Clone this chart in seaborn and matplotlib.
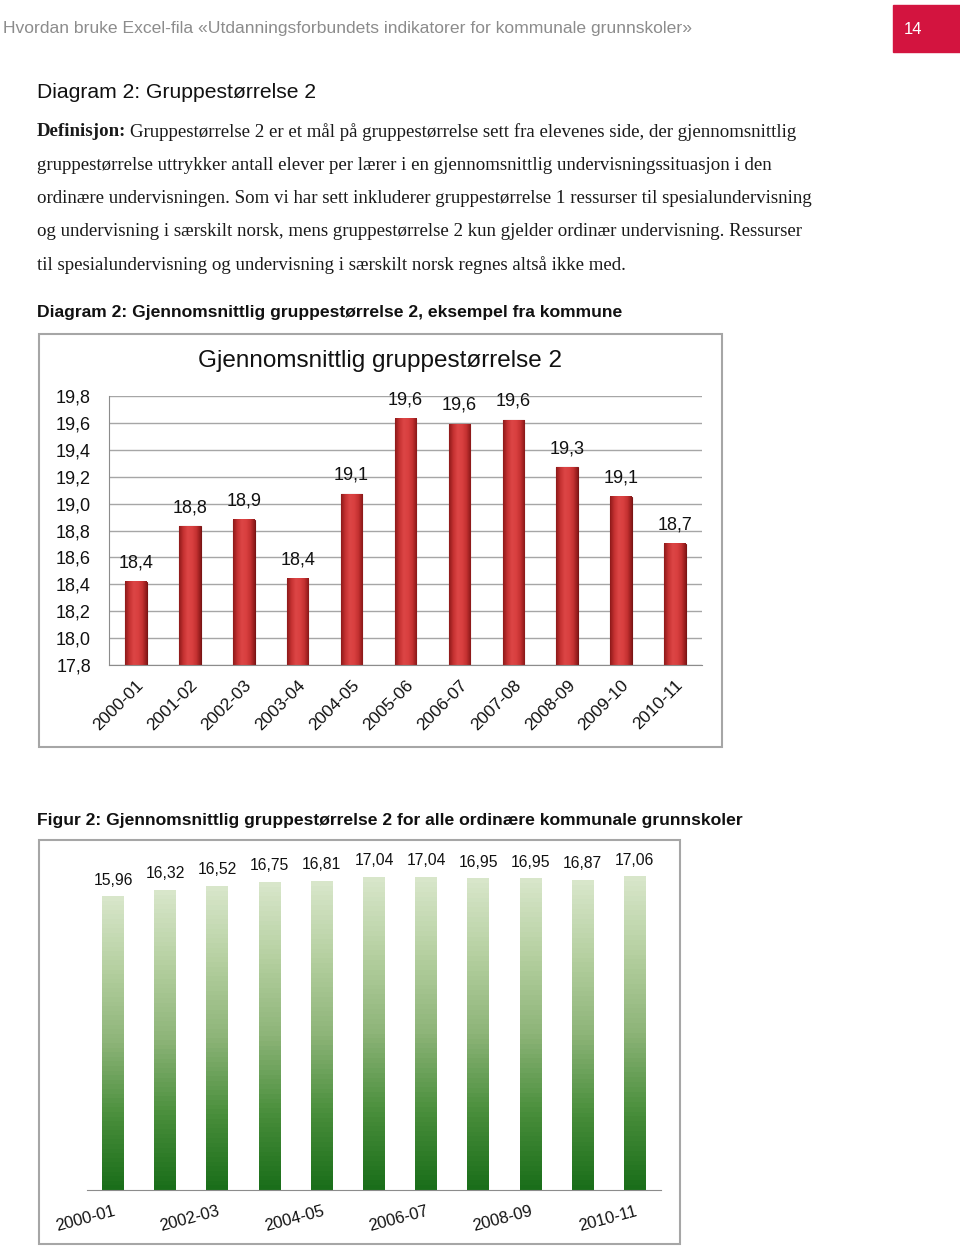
import numpy as np
import pandas as pd
import matplotlib
matplotlib.use('Agg')
import matplotlib.pyplot as plt
from matplotlib.patches import Rectangle
from matplotlib.colors import LinearSegmentedColormap
import seaborn as sns

# data
seasons = ['2000-01', '2001-02', '2002-03', '2003-04', '2004-05', '2005-06',
           '2006-07', '2007-08', '2008-09', '2009-10', '2010-11']
kommune = [18.42, 18.83, 18.88, 18.44, 19.07, 19.63, 19.59, 19.62, 19.27, 19.05, 18.70]
alle = [15.96, 16.32, 16.52, 16.75, 16.81, 17.04, 17.04, 16.95, 16.95, 16.87, 17.06]
y_ticks = [17.8, 18.0, 18.2, 18.4, 18.6, 18.8, 19.0, 19.2, 19.4, 19.6, 19.8]

W, H = 960, 1247

sns.set_style('white')
plt.rcParams['font.family'] = ['Liberation Sans', 'DejaVu Sans']

fig = plt.figure(figsize=(W / 100, H / 100), dpi=100)


def rect(x0, y0, x1, y1):
    # pixel box -> figure fraction
    return [x0 / W, 1 - y1 / H, (x1 - x0) / W, (y1 - y0) / H]


def fx(x):
    return x / W


def fy(y):
    return 1 - y / H


def comma(v, d):
    return f'{v:.{d}f}'.replace('.', ',')


def fill_gradient(ax, cmap, horizontal=True):
    # paint each bar with a gradient clipped to the bar shape and the axes
    lo = max(ax.get_ylim()[0], 0)
    for p in ax.patches:
        x0, w, h = p.get_x(), p.get_width(), p.get_height()
        if horizontal:
            grad = np.linspace(0, 1, 64).reshape(1, -1)
        else:
            grad = np.linspace(0, 1, 64).reshape(-1, 1)
        im = ax.imshow(grad, cmap=cmap, aspect='auto', origin='lower',
                       extent=(x0, x0 + w, lo, h), zorder=2)
        im.set_clip_path(p)
        im.set_clip_box(ax.bbox)
        p.set_facecolor('none')
        p.set_clip_box(ax.bbox)


# page header
fig.text(fx(3), fy(29), 'Hvordan bruke Excel-fila «Utdanningsforbundets indikatorer for kommunale grunnskoler»',
         fontsize=12.6, color='#8c8c8c', va='center', ha='left')
fig.patches.append(Rectangle((fx(893), fy(52)), fx(67), (52 - 5) / H,
                             transform=fig.transFigure, color='#d3143f', zorder=0))
fig.text(fx(913), fy(29), '14', fontsize=12, color='white', va='center', ha='center')

fig.text(fx(37), fy(92), 'Diagram 2: Gruppestørrelse 2',
         fontsize=15.2, color='#111111', va='center', ha='left')

# definition paragraph
serif = ['Liberation Serif', 'DejaVu Serif']
psize = 13.6
lines = [
    'gruppestørrelse uttrykker antall elever per lærer i en gjennomsnittlig undervisningssituasjon i den',
    'ordinære undervisningen. Som vi har sett inkluderer gruppestørrelse 1 ressurser til spesialundervisning',
    'og undervisning i særskilt norsk, mens gruppestørrelse 2 kun gjelder ordinær undervisning. Ressurser',
    'til spesialundervisning og undervisning i særskilt norsk regnes altså ikke med.',
]
t = fig.text(fx(37), fy(132), 'Definisjon:', family=serif, fontsize=psize, weight='bold',
             color='#1a1a1a', va='center', ha='left')
fig.canvas.draw()
bb = t.get_window_extent()
fig.text(bb.x1 / W + fx(4), fy(132), 'Gruppestørrelse 2 er et mål på gruppestørrelse sett fra elevenes side, der gjennomsnittlig',
         family=serif, fontsize=psize, color='#1a1a1a', va='center', ha='left')
for i, line in enumerate(lines):
    fig.text(fx(37), fy(165 + 33.3 * i), line, family=serif, fontsize=psize,
             color='#1a1a1a', va='center', ha='left')

# chart 1
fig.text(fx(37), fy(313), 'Diagram 2: Gjennomsnittlig gruppestørrelse 2, eksempel fra kommune',
         fontsize=12.6, weight='bold', color='#111111', va='center', ha='left')
fig.patches.append(Rectangle((fx(39), fy(747)), fx(722 - 39), (747 - 334) / H,
                             transform=fig.transFigure, fill=False, ec='#a6a6a6', lw=1.5))
fig.text(fx(380), fy(361), 'Gjennomsnittlig gruppestørrelse 2', fontsize=17.5,
         color='#111111', va='center', ha='center')

ax1 = fig.add_axes(rect(109, 396, 702, 665))
df1 = pd.DataFrame({'season': seasons, 'value': kommune})
sns.barplot(data=df1, x='season', y='value', ax=ax1, color='#d03a3a', width=0.4,
            edgecolor='#7a1414', linewidth=0.8, zorder=2)
ax1.set_xlim(-0.5, len(seasons) - 0.5)
ax1.set_ylim(17.8, 19.8)
red = LinearSegmentedColormap.from_list('red', ['#8e1a1a', '#c63232', '#dc4545', '#d94040', '#c43131', '#8a1818'])
fill_gradient(ax1, red, horizontal=True)
ax1.set_xlim(-0.5, len(seasons) - 0.5)
ax1.set_ylim(17.8, 19.8)
ax1.set_yticks(y_ticks)
ax1.set_yticklabels([comma(v, 1) for v in y_ticks])
ax1.yaxis.grid(True, color='#a6a6a6', lw=1)
ax1.set_axisbelow(True)
ax1.set_xlabel('')
ax1.set_ylabel('')
for s in ['top', 'right']:
    ax1.spines[s].set_visible(False)
for s in ['left', 'bottom']:
    ax1.spines[s].set_color('#8c8c8c')
ax1.tick_params(axis='y', length=4, color='#8c8c8c', pad=9, labelsize=13, labelcolor='#111111')
ax1.set_xticks(np.arange(-0.5, len(seasons), 1), minor=True)
ax1.tick_params(axis='x', which='minor', length=5, color='#8c8c8c')
ax1.tick_params(axis='x', which='major', length=0, pad=9, labelsize=12.5, labelcolor='#111111')
plt.setp(ax1.get_xticklabels(), rotation=45, ha='right', rotation_mode='anchor')
for i, v in enumerate(kommune):
    ax1.annotate(comma(v, 1), (i, v), xytext=(0, 13.5), textcoords='offset points',
                 ha='center', va='center', fontsize=13, color='#111111', annotation_clip=False)

# chart 2
fig.text(fx(37), fy(820), 'Figur 2: Gjennomsnittlig gruppestørrelse 2 for alle ordinære kommunale grunnskoler',
         fontsize=12.6, weight='bold', color='#111111', va='center', ha='left')
fig.patches.append(Rectangle((fx(39), fy(1244)), fx(680 - 39), (1244 - 840) / H,
                             transform=fig.transFigure, fill=False, ec='#a6a6a6', lw=1.5))

ax2 = fig.add_axes(rect(87, 860, 661, 1190))
df2 = pd.DataFrame({'season': seasons, 'value': alle})
sns.barplot(data=df2, x='season', y='value', ax=ax2, color='#6aa84f', width=0.42,
            linewidth=0, zorder=2)
ax2.set_xlim(-0.5, len(seasons) - 0.5)
ax2.set_ylim(0, 17.97)
green = LinearSegmentedColormap.from_list('green', ['#1a6e1a', '#4a8f3c', '#8db478', '#b4cf9f', '#d8e6ca'])
fill_gradient(ax2, green, horizontal=False)
ax2.set_xlim(-0.5, len(seasons) - 0.5)
ax2.set_ylim(0, 17.97)
ax2.set_yticks([])
ax2.set_xlabel('')
ax2.set_ylabel('')
for s in ['top', 'right', 'left']:
    ax2.spines[s].set_visible(False)
ax2.spines['bottom'].set_color('#8c8c8c')
ax2.set_xticks(range(0, len(seasons), 2))
ax2.set_xticklabels(seasons[::2])
ax2.set_xticks(np.arange(-0.5, len(seasons), 1), minor=True)
ax2.tick_params(axis='x', which='minor', length=5, color='#8c8c8c')
ax2.tick_params(axis='x', which='major', length=0, pad=10, labelsize=12, labelcolor='#111111')
plt.setp(ax2.get_xticklabels(), rotation=15, ha='right', rotation_mode='anchor')
for i, v in enumerate(alle):
    ax2.annotate(comma(v, 2), (i, v), xytext=(0, 12), textcoords='offset points',
                 ha='center', va='center', fontsize=11.3, color='#111111', annotation_clip=False)

fig.savefig('out.png', dpi=100, facecolor='white')
